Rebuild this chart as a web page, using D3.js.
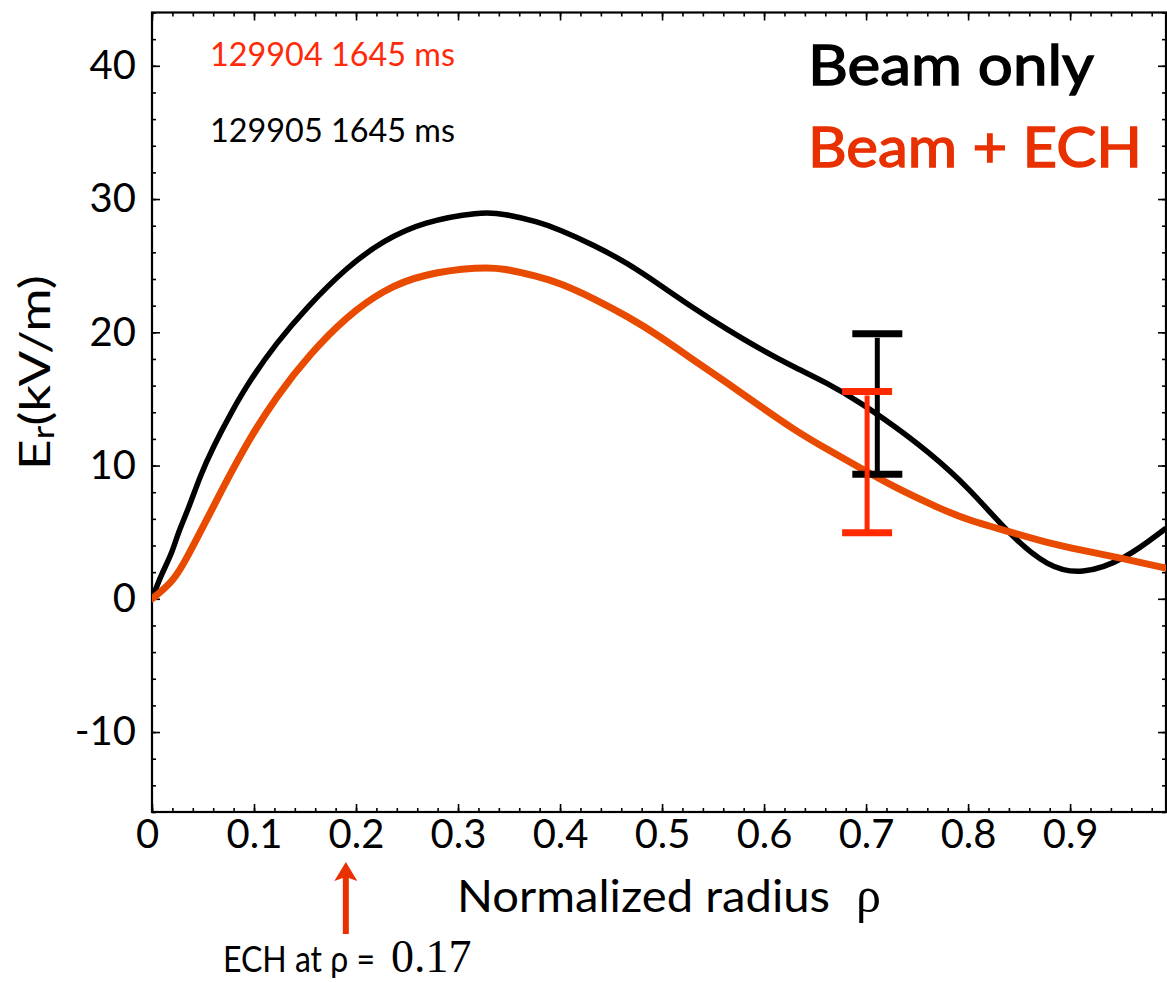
<!DOCTYPE html>
<html>
<head>
<meta charset="utf-8">
<script src="https://cdn.jsdelivr.net/npm/d3@7/dist/d3.min.js"></script>
<style>
  html, body { margin: 0; padding: 0; background: #fff; }
  svg { display: block; }
</style>
</head>
<body>
<svg id="chart" width="1167" height="982"></svg>
<script>
// ---------- data ----------
const rhoBeamOnly = [0, 0.0095, 0.019, 0.026, 0.036, 0.047, 0.060, 0.077, 0.096, 0.122, 0.152, 0.191, 0.227, 0.266, 0.322, 0.345, 0.378, 0.4, 0.433, 0.466, 0.498, 0.531, 0.564, 0.597, 0.629, 0.662, 0.695, 0.727, 0.760, 0.80, 0.842, 0.878, 0.911, 0.953, 0.994];
const erBeamOnly  = [0, 1.9, 3.3, 5.05, 6.8, 9.2, 11.4, 13.9, 16.4, 19.2, 21.9, 24.9, 26.9, 28.3, 29.05, 28.9, 28.3, 27.7, 26.55, 25.2, 23.55, 21.8, 20.2, 18.7, 17.4, 16.2, 14.7, 13.0, 11.1, 8.4, 4.7, 2.4, 1.8, 2.9, 5.3];

const rhoBeamECH = [0, 0.021, 0.034, 0.050, 0.070, 0.093, 0.122, 0.155, 0.191, 0.227, 0.266, 0.322, 0.345, 0.378, 0.4, 0.433, 0.466, 0.498, 0.531, 0.564, 0.597, 0.629, 0.662, 0.695, 0.727, 0.773, 0.80, 0.842, 0.878, 0.911, 0.953, 0.994];
const erBeamECH  = [0, 1.3, 3.05, 5.4, 8.4, 11.7, 15.2, 18.4, 21.2, 23.2, 24.4, 24.9, 24.8, 24.2, 23.7, 22.55, 21.2, 19.7, 17.9, 16.2, 14.4, 12.7, 11.2, 9.8, 8.4, 6.75, 5.9, 5.0, 4.2, 3.65, 3.0, 2.3];

const errSeries = ["Beam only", "Beam + ECH"];
const errRho  = [0.711, 0.701];
const errLow  = [9.35, 4.95];
const errHigh = [19.9, 15.55];

const xMajorTicks = [0, 0.1, 0.2, 0.3, 0.4, 0.5, 0.6, 0.7, 0.8, 0.9];
const xTickLabels = ["0", "0.1", "0.2", "0.3", "0.4", "0.5", "0.6", "0.7", "0.8", "0.9"];
const yMajorTicks = [-10, 0, 10, 20, 30, 40];
const yTickLabels = ["-10", "0", "10", "20", "30", "40"];
const xMinorTicks = d3.range(0, 50).map(i => +(i * 0.02).toFixed(2));
const yMinorTicks = d3.range(-16, 45, 2);

const echRho = 0.19;

// ---------- layout ----------
const svg = d3.select("#chart");
const x = d3.scaleLinear().domain([0, 0.994]).range([152, 1166]);
const y = d3.scaleLinear().domain([-16, 44]).range([812, 12.5]);

const BLACK = "#000000";
const CURVE_RED = "#e84a00";
const ERR_RED = "#ff2a00";
const TEXT_RED = "#e83000";
const tickFont = "Lato, 'Open Sans', sans-serif";

svg.append("defs").append("clipPath").attr("id", "plotclip")
  .append("rect").attr("x", 152).attr("y", 12.5).attr("width", 1014).attr("height", 799.5);

// ---------- axes ----------
function styleAxis(g) {
  g.select(".domain").remove();
  g.selectAll(".tick line").attr("stroke", BLACK).attr("stroke-width", 1.6);
}

// minor ticks
svg.append("g").attr("transform", `translate(0,${y(-16)})`)
  .call(d3.axisBottom(x).tickValues(xMinorTicks).tickSize(-4).tickFormat(""))
  .call(styleAxis);
svg.append("g").attr("transform", `translate(0,${y(44)})`)
  .call(d3.axisTop(x).tickValues(xMinorTicks).tickSize(-4).tickFormat(""))
  .call(styleAxis);
svg.append("g").attr("transform", `translate(${x(0)},0)`)
  .call(d3.axisLeft(y).tickValues(yMinorTicks).tickSize(-4).tickFormat(""))
  .call(styleAxis);
svg.append("g").attr("transform", `translate(${x(0.994)},0)`)
  .call(d3.axisRight(y).tickValues(yMinorTicks).tickSize(-4).tickFormat(""))
  .call(styleAxis);

// major ticks
const xAxisG = svg.append("g").attr("transform", `translate(0,${y(-16)})`)
  .call(d3.axisBottom(x).tickValues(xMajorTicks).tickSize(-8).tickPadding(8)
    .tickFormat((d, i) => xTickLabels[i]))
  .call(styleAxis);
svg.append("g").attr("transform", `translate(0,${y(44)})`)
  .call(d3.axisTop(x).tickValues(xMajorTicks).tickSize(-8).tickFormat(""))
  .call(styleAxis);
const yAxisG = svg.append("g").attr("transform", `translate(${x(0)},0)`)
  .call(d3.axisLeft(y).tickValues(yMajorTicks).tickSize(-8).tickPadding(16)
    .tickFormat((d, i) => yTickLabels[i]))
  .call(styleAxis);
svg.append("g").attr("transform", `translate(${x(0.994)},0)`)
  .call(d3.axisRight(y).tickValues(yMajorTicks).tickSize(-8).tickFormat(""))
  .call(styleAxis);

[xAxisG, yAxisG].forEach(g => g.selectAll("text")
  .attr("font-family", tickFont).attr("font-size", 40).attr("fill", BLACK));
// the "0" label of the x axis sits a little left of its tick in the original
xAxisG.selectAll(".tick text").filter(d => d === 0).attr("dx", -5);

// frame
svg.append("rect")
  .attr("x", x(0)).attr("y", y(44))
  .attr("width", x(0.994) - x(0)).attr("height", y(-16) - y(44))
  .attr("fill", "none").attr("stroke", BLACK).attr("stroke-width", 2.2);

// ---------- curves ----------
const line = d3.line().x(d => x(d[0])).y(d => y(d[1])).curve(d3.curveBasis);
const plot = svg.append("g").attr("clip-path", "url(#plotclip)");

plot.append("path")
  .datum(rhoBeamOnly.map((r, i) => [r, erBeamOnly[i]]))
  .attr("d", line).attr("fill", "none").attr("stroke", BLACK)
  .attr("stroke-width", 5.5).attr("stroke-linejoin", "round");

plot.append("path")
  .datum(rhoBeamECH.map((r, i) => [r, erBeamECH[i]]))
  .attr("d", line).attr("fill", "none").attr("stroke", CURVE_RED)
  .attr("stroke-width", 7).attr("stroke-linejoin", "round").attr("stroke-linecap", "round");

// ---------- error bars ----------
const errColors = [BLACK, ERR_RED];
errSeries.forEach((s, i) => {
  const g = svg.append("g");
  const cx = x(errRho[i]);
  g.append("line").attr("x1", cx).attr("x2", cx)
    .attr("y1", y(errHigh[i]) + 4).attr("y2", y(errLow[i]))
    .attr("stroke", errColors[i]).attr("stroke-width", 5);
  [errHigh[i], errLow[i]].forEach(v => {
    g.append("line").attr("x1", cx - 25).attr("x2", cx + 25)
      .attr("y1", y(v)).attr("y2", y(v))
      .attr("stroke", errColors[i]).attr("stroke-width", 7);
  });
});

// ---------- texts ----------
svg.append("text").attr("x", 210).attr("y", 65.5)
  .attr("font-family", tickFont).attr("font-size", 32).attr("fill", "#ff2a0a")
  .attr("textLength", 245).attr("lengthAdjust", "spacingAndGlyphs")
  .text("129904 1645 ms");
svg.append("text").attr("x", 210).attr("y", 141.5)
  .attr("font-family", tickFont).attr("font-size", 32).attr("fill", BLACK)
  .attr("textLength", 245).attr("lengthAdjust", "spacingAndGlyphs")
  .text("129905 1645 ms");

svg.append("text").attr("x", 808).attr("y", 85)
  .attr("font-family", tickFont).attr("font-size", 56).attr("fill", BLACK)
  .attr("stroke", BLACK).attr("stroke-width", 1.4)
  .attr("textLength", 286).attr("lengthAdjust", "spacingAndGlyphs")
  .text("Beam only");
svg.append("text").attr("x", 808).attr("y", 166.5)
  .attr("font-family", tickFont).attr("font-size", 56).attr("fill", TEXT_RED)
  .attr("stroke", TEXT_RED).attr("stroke-width", 1.4)
  .attr("textLength", 334).attr("lengthAdjust", "spacingAndGlyphs")
  .text("Beam + ECH");

// y title
const yt = svg.append("text")
  .attr("transform", "translate(50,470) rotate(-90)")
  .attr("font-family", tickFont).attr("font-size", 42).attr("fill", BLACK)
  .attr("textLength", 195).attr("lengthAdjust", "spacingAndGlyphs");
yt.append("tspan").text("E");
yt.append("tspan").attr("font-size", 30).attr("dy", 4).text("r");
yt.append("tspan").attr("dy", -4).text("(kV/m)");

// x title
svg.append("text").attr("x", 457).attr("y", 912)
  .attr("font-family", tickFont).attr("font-size", 44).attr("fill", BLACK)
  .attr("textLength", 373).attr("lengthAdjust", "spacingAndGlyphs")
  .text("Normalized radius");
svg.append("text").attr("x", 856).attr("y", 912)
  .attr("font-family", "'Liberation Serif', serif").attr("font-size", 50).attr("fill", BLACK)
  .text("ρ");

// ECH annotation arrow
const ax = x(echRho);
svg.append("line").attr("x1", ax).attr("x2", ax).attr("y1", 934).attr("y2", 876)
  .attr("stroke", TEXT_RED).attr("stroke-width", 6);
svg.append("path")
  .attr("d", `M${ax},862 L${ax + 11.5},881 L${ax},877 L${ax - 11.5},881 Z`)
  .attr("fill", TEXT_RED);

svg.append("text").attr("x", 223).attr("y", 972)
  .attr("font-family", tickFont).attr("font-size", 36).attr("fill", BLACK)
  .attr("textLength", 152).attr("lengthAdjust", "spacingAndGlyphs")
  .text("ECH at ρ =");
svg.append("text").attr("x", 391).attr("y", 972)
  .attr("font-family", "'Liberation Serif', serif").attr("font-size", 46).attr("fill", BLACK)
  .text("0.17");
</script>
</body>
</html>
